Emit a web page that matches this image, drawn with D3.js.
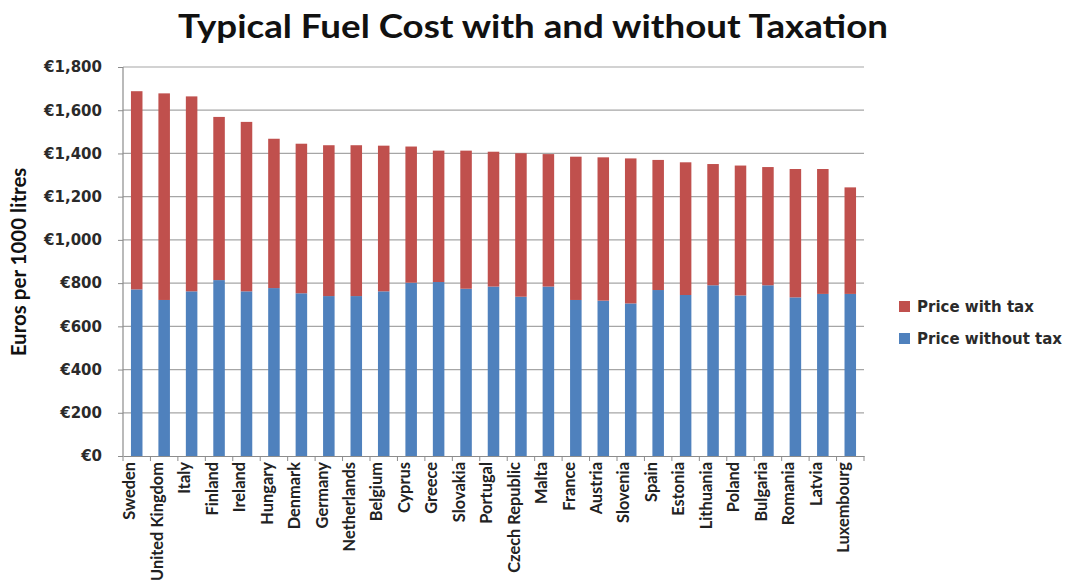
<!DOCTYPE html>
<html>
<head>
<meta charset="utf-8">
<script src="https://cdn.jsdelivr.net/npm/d3@7"></script>
<style>
  body { margin: 0; background: #fff; }
  svg { font-family: Lato, "Open Sans", sans-serif; }
</style>
</head>
<body>
<script>
// values
var countries = ["Sweden", "United Kingdom", "Italy", "Finland", "Ireland", "Hungary", "Denmark",
  "Germany", "Netherlands", "Belgium", "Cyprus", "Greece", "Slovakia", "Portugal", "Czech Republic",
  "Malta", "France", "Austria", "Slovenia", "Spain", "Estonia", "Lithuania", "Poland", "Bulgaria",
  "Romania", "Latvia", "Luxembourg"];
var priceWithTax = [1688, 1678, 1664, 1569, 1546, 1468, 1445, 1438, 1438, 1436, 1432, 1413, 1413,
  1408, 1401, 1397, 1385, 1382, 1377, 1370, 1359, 1351, 1344, 1337, 1328, 1328, 1243];
var priceWithoutTax = [771, 722, 762, 814, 762, 777, 753, 740, 740, 762, 802, 805, 774,
  784, 737, 784, 722, 719, 706, 768, 745, 790, 743, 790, 734, 750, 750];
var yTicks = [0, 200, 400, 600, 800, 1000, 1200, 1400, 1600, 1800];
var seriesNames = ["Price with tax", "Price without tax"];
var seriesColors = ["#c0504d", "#4f81bd"];

var width = 1070, height = 585;
var margin = {top: 67, right: 206, bottom: 129, left: 123};
var innerW = width - margin.left - margin.right;
var innerH = height - margin.top - margin.bottom;

var svg = d3.select("body").append("svg")
  .attr("width", width)
  .attr("height", height);

svg.append("text")
  .attr("x", 178)
  .attr("y", 38)
  .attr("font-size", "32px")
  .attr("font-weight", "bold")
  .attr("fill", "#111")
  .attr("textLength", 710)
  .attr("lengthAdjust", "spacingAndGlyphs")
  .text("Typical Fuel Cost with and without Taxation");

var g = svg.append("g")
  .attr("transform", "translate(" + margin.left + "," + margin.top + ")");

var x = d3.scaleBand().domain(countries).range([0, innerW]).paddingInner(0.58).paddingOuter(0.29);
var y = d3.scaleLinear().domain([0, 1800]).range([innerH, 0]);

// gridlines
g.append("g").selectAll("line")
  .data(yTicks.filter(function(d) { return d > 0; }))
  .enter().append("line")
  .attr("x1", 0).attr("x2", innerW)
  .attr("y1", function(d) { return y(d); })
  .attr("y2", function(d) { return y(d); })
  .attr("stroke", "#a6a6a6")
  .attr("stroke-width", 1.2);

var rows = countries.map(function(c, i) {
  return {country: c, total: priceWithTax[i], base: priceWithoutTax[i]};
});

// blue: price without tax
g.append("g").selectAll("rect")
  .data(rows)
  .enter().append("rect")
  .attr("x", function(d) { return x(d.country); })
  .attr("width", x.bandwidth())
  .attr("y", function(d) { return y(d.base); })
  .attr("height", function(d) { return y(0) - y(d.base); })
  .attr("fill", seriesColors[1]);

// red: stacked up to price with tax
g.append("g").selectAll("rect")
  .data(rows)
  .enter().append("rect")
  .attr("x", function(d) { return x(d.country); })
  .attr("width", x.bandwidth())
  .attr("y", function(d) { return y(d.total); })
  .attr("height", function(d) { return y(d.base) - y(d.total); })
  .attr("fill", seriesColors[0]);

// left axis
var leftAxis = d3.axisLeft(y)
  .tickValues(yTicks)
  .tickSize(5)
  .tickPadding(16)
  .tickFormat(function(d) { return "€" + d3.format(",")(d); });

var ya = g.append("g").call(leftAxis);
ya.select(".domain").attr("stroke", "#8c8c8c").attr("stroke-width", 1.2).attr("d", "M0," + innerH + "V0");
ya.selectAll(".tick line").attr("stroke", "#8c8c8c");
ya.selectAll("text")
  .attr("font-family", "'DejaVu Sans', sans-serif")
  .attr("font-size", "15px")
  .attr("font-weight", "bold")
  .attr("fill", "#2a2a2a");

// bottom axis
var bottomAxis = d3.axisBottom(x).tickSize(0).tickPadding(7);
var xa = g.append("g")
  .attr("transform", "translate(0," + innerH + ")")
  .call(bottomAxis);
xa.select(".domain").attr("stroke", "#8c8c8c").attr("stroke-width", 1.2);
xa.selectAll("text")
  .attr("font-family", "Lato, sans-serif")
  .attr("font-size", "16.4px")
  .attr("font-weight", "bold")
  .attr("fill", "#222")
  .attr("text-anchor", "end")
  .attr("dy", "0.35em")
  .attr("transform", "rotate(-90) translate(-6,-7)")
  .attr("x", 0).attr("y", 0);

// tick marks between categories
var step = x.step();
xa.append("g").selectAll("line")
  .data(d3.range(countries.length + 1))
  .enter().append("line")
  .attr("x1", function(i) { return x(countries[0]) - x.paddingOuter() * step + i * step; })
  .attr("x2", function(i) { return x(countries[0]) - x.paddingOuter() * step + i * step; })
  .attr("y1", 0).attr("y2", 5)
  .attr("stroke", "#8c8c8c");

// y axis title
svg.append("text")
  .attr("transform", "rotate(-90)")
  .attr("x", -262)
  .attr("y", 26)
  .attr("text-anchor", "middle")
  .attr("font-size", "20.5px")
  .attr("font-weight", "bold")
  .attr("fill", "#111")
  .text("Euros per 1000 litres");

// legend
var legend = svg.append("g").attr("transform", "translate(899,301)");
seriesNames.forEach(function(name, i) {
  var row = legend.append("g").attr("transform", "translate(0," + (i * 32) + ")");
  row.append("rect")
    .attr("width", 11).attr("height", 11)
    .attr("fill", seriesColors[i]);
  row.append("text")
    .attr("x", 18).attr("y", 11)
    .attr("font-family", "'DejaVu Sans', sans-serif")
    .attr("font-size", "15px")
    .attr("font-weight", "bold")
    .attr("fill", "#2a2a2a")
    .text(name);
});
</script>
</body>
</html>
